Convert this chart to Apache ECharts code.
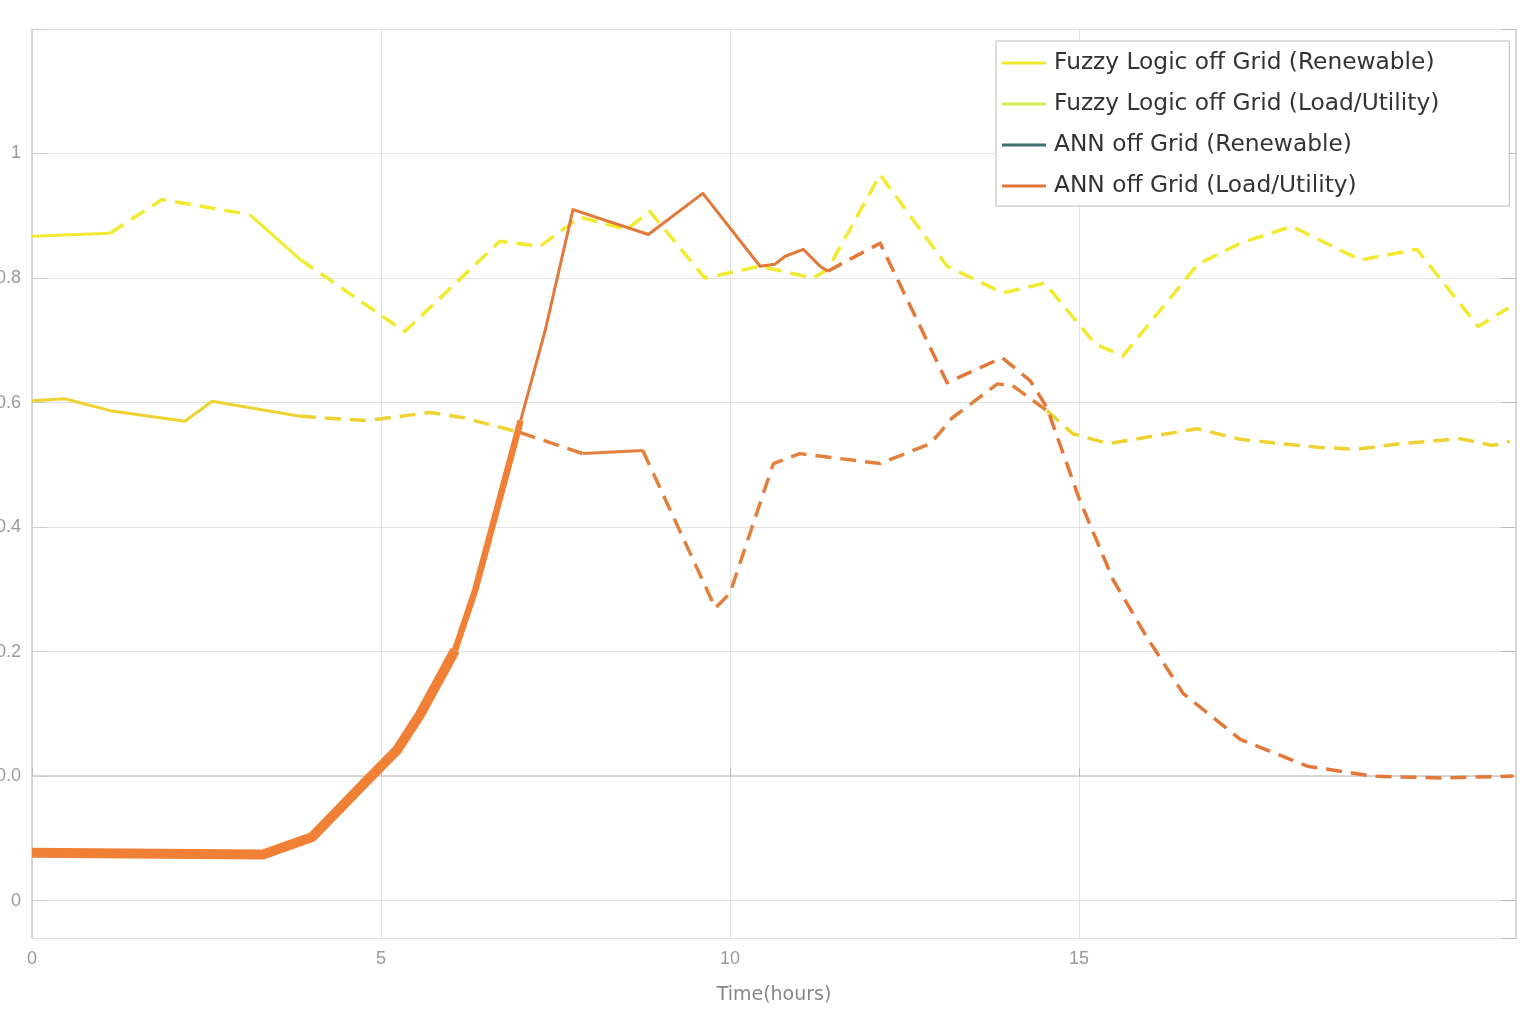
<!DOCTYPE html>
<html>
<head>
<meta charset="utf-8">
<script src="https://cdn.jsdelivr.net/npm/echarts@6/dist/echarts.min.js"></script>
<style>
  html, body { margin: 0; padding: 0; background: #fff; }
  #main { width: 1536px; height: 1024px; }
</style>
</head>
<body>
<div id="main"></div>
<script>
// values, x in hours
// segment styles: s = solid, d = dashed, w = wide, m = medium, - = no line
const fuzzyRenHours = [0, 1.12, 1.86, 3.12, 3.84, 5.34, 6.70, 7.28, 7.85, 8.52, 8.85, 9.64, 10.43, 11.19, 11.40, 12.15, 13.11, 13.91, 14.51, 15.23, 15.63, 16.70, 17.31, 18.05, 19.03, 19.84, 20.72, 21.15];
const fuzzyRenValues = [0.867, 0.872, 0.926, 0.902, 0.830, 0.714, 0.859, 0.851, 0.898, 0.878, 0.907, 0.800, 0.819, 0.800, 0.814, 0.966, 0.819, 0.776, 0.792, 0.694, 0.675, 0.822, 0.856, 0.883, 0.829, 0.846, 0.722, 0.752];
const fuzzyRenStyle = "sddsddddddddddddddddddddddd";

const fuzzyLoadHours = [0, 0.47, 1.12, 2.19, 2.58, 3.84, 4.80, 5.70, 6.17, 6.99, 14.54, 14.91, 15.42, 16.69, 17.31, 17.88, 18.45, 18.98, 19.60, 20.46, 20.93, 21.17];
const fuzzyLoadValues = [0.603, 0.606, 0.587, 0.570, 0.602, 0.578, 0.571, 0.584, 0.576, 0.552, 0.587, 0.550, 0.534, 0.558, 0.541, 0.534, 0.528, 0.525, 0.534, 0.542, 0.531, 0.538];
const fuzzyLoadStyle = "sssssdddd-ddddddddddd";

const annRenHours = [6.99, 7.89, 8.75, 9.79, 10.00, 10.62, 11.00, 12.15, 12.87, 13.19, 13.83, 14.05, 14.54];
const annRenValues = [0.552, 0.518, 0.523, 0.270, 0.294, 0.502, 0.518, 0.502, 0.534, 0.576, 0.630, 0.627, 0.587];
const annRenStyle = "dsdddddddddd";

const annLoadHours = [0, 3.31, 4.01, 4.81, 5.23, 5.56, 6.06, 6.35, 6.60, 7.00, 7.35, 7.75, 8.83, 9.61, 10.43, 10.64, 10.79, 11.05, 11.29, 11.40, 12.15, 13.11, 13.90, 14.30, 14.54, 15.01, 15.49, 15.95, 16.49, 17.31, 18.27, 19.21, 20.17, 21.22];
const annLoadValues = [-0.123, -0.126, -0.098, -0.006, 0.042, 0.099, 0.202, 0.299, 0.403, 0.571, 0.715, 0.910, 0.870, 0.936, 0.819, 0.822, 0.835, 0.846, 0.819, 0.811, 0.856, 0.632, 0.672, 0.635, 0.592, 0.443, 0.315, 0.227, 0.133, 0.059, 0.016, 0.0, -0.003, 0.0];
const annLoadStyle = "wwwwwwmmmssssssssssdddddddddddddd";

const xTicks = [0, 5, 10, 15];

const curves = [
  { name: "Fuzzy Logic off Grid (Renewable)", hours: fuzzyRenHours, values: fuzzyRenValues, style: fuzzyRenStyle, color: "#f2ea30", legendColor: "#f0e82a" },
  { name: "Fuzzy Logic off Grid (Load/Utility)", hours: fuzzyLoadHours, values: fuzzyLoadValues, style: fuzzyLoadStyle, color: "#eed232", legendColor: "#d8ea50" },
  { name: "ANN off Grid (Renewable)", hours: annRenHours, values: annRenValues, style: annRenStyle, color: "#e2813e", legendColor: "#3f6e6e" },
  { name: "ANN off Grid (Load/Utility)", hours: annLoadHours, values: annLoadValues, style: annLoadStyle, color: "#e2783a", legendColor: "#e0743a" }
];

const widths = { s: 3, d: 3.5, w: 10, m: 6.5 };

// split a curve into one series per segment style, breaking the line with '-'
function buildSeries(c) {
  const groups = {};
  for (let i = 0; i < c.style.length; i++) {
    const st = c.style[i];
    if (st === "-") continue;
    if (!groups[st]) groups[st] = [];
    const g = groups[st];
    const last = g[g.length - 1];
    if (!last || last[0] !== c.hours[i] || last[1] !== c.values[i]) {
      if (g.length) g.push([c.hours[i], "-"]);
      g.push([c.hours[i], c.values[i]]);
    }
    g.push([c.hours[i + 1], c.values[i + 1]]);
  }
  return Object.keys(groups).map(function (st) {
    return {
      name: c.name,
      type: "line",
      data: groups[st],
      showSymbol: false,
      symbol: "none",
      connectNulls: false,
      color: c.legendColor,
      lineStyle: {
        color: st === "w" || st === "m" ? "#ef8036" : c.color,
        width: widths[st],
        type: st === "d" ? [16, 9] : "solid",
        cap: "butt",
        join: "round"
      },
      z: st === "w" ? 3 : 2
    };
  });
}

let series = [];
for (let i = 0; i < curves.length; i++) {
  series = series.concat(buildSeries(curves[i]));
}

const chart = echarts.init(document.getElementById("main"));
chart.setOption({
  animation: false,
  backgroundColor: "#fff",
  textStyle: { fontFamily: "Liberation Sans" },
  grid: { left: 32, right: 20, top: 29, bottom: 86, outerBoundsMode: "none", containLabel: false },
  legend: {
    orient: "vertical",
    left: 996,
    top: 41,
    padding: [10, 70, 8, 6],
    itemGap: 17,
    itemWidth: 44,
    itemHeight: 3,
    backgroundColor: "#fff",
    borderColor: "#bbb",
    borderWidth: 1,
    textStyle: { fontSize: 23.3, color: "#333", lineHeight: 24, fontFamily: "DejaVu Sans", padding: [0, 0, 0, 3] },
    data: curves.map(function (c) {
      return { name: c.name, icon: "rect", itemStyle: { color: c.legendColor } };
    })
  },
  xAxis: {
    type: "value",
    min: 0,
    max: 21.26,
    interval: 5,
    name: "Time(hours)",
    nameLocation: "middle",
    nameGap: 48,
    nameTextStyle: { fontSize: 19, color: "#888", fontFamily: "DejaVu Sans" },
    axisLine: { lineStyle: { color: "#ccc", width: 1.5 } },
    axisTick: { customValues: xTicks, inside: true, length: 8, lineStyle: { color: "#bbb" } },
    axisLabel: { customValues: xTicks, fontSize: 18, color: "#999", margin: 12 },
    splitLine: { show: true, lineStyle: { color: "#e2e2e2" } }
  },
  yAxis: [
    {
      type: "value",
      min: -0.26,
      max: 1.2,
      splitNumber: 7,
      axisLine: { show: true, lineStyle: { color: "#ccc", width: 1.5 } },
      axisTick: { show: true, inside: true, length: 15, lineStyle: { color: "#ccc" } },
      axisLabel: {
        fontSize: 18,
        color: "#999",
        margin: 11,
        showMinLabel: false,
        formatter: function (v) {
          const r = Math.round(v * 10) / 10;
          if (Math.abs(v - r) > 0.001) return "";
          if (r === -0.2) return "0";
          if (r === 1) return "1";
          if (r > 1) return "";
          return r.toFixed(1);
        }
      },
      splitLine: { show: true, lineStyle: { color: "#e2e2e2" } }
    },
    {
      type: "value",
      position: "right",
      min: -0.26,
      max: 1.2,
      splitNumber: 7,
      axisLine: { show: true, lineStyle: { color: "#ccc", width: 1.5 } },
      axisTick: { show: true, inside: true, length: 15, lineStyle: { color: "#bbb" } },
      axisLabel: { show: false },
      splitLine: { show: false }
    }
  ],
  series: series
});
</script>
</body>
</html>
